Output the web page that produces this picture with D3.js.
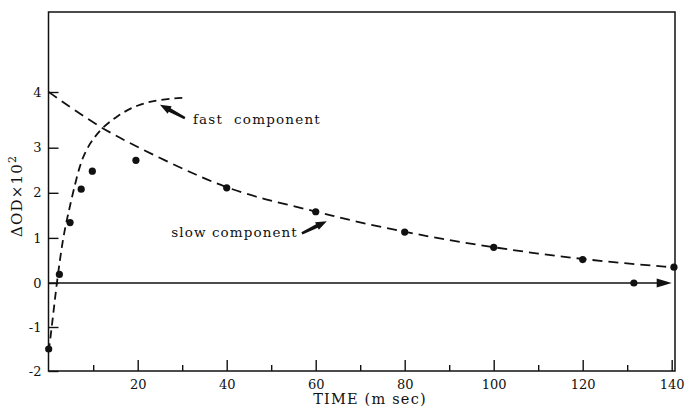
<!DOCTYPE html>
<html>
<head>
<meta charset="utf-8">
<script src="https://cdn.jsdelivr.net/npm/d3@7"></script>
<style>
  html, body { margin: 0; padding: 0; background: #fff; }
  svg { display: block; }
  text { font-family: "DejaVu Serif", "Liberation Serif", serif; fill: #111; }
</style>
</head>
<body>
<svg id="chart" width="686" height="408"></svg>
<script>
// ---- data ----
const pointT = [0, 2.4, 4.8, 7.3, 9.8, 19.6, 40, 60, 80, 100, 120, 131.5, 140.5];
const pointV = [-1.5, 0.19, 1.34, 2.08, 2.48, 2.72, 2.11, 1.58, 1.13, 0.79, 0.52, 0, 0.35];

const slowT = [0, 5.5, 11.9, 18.3, 25.8, 33.3, 40, 48.2, 60, 67.7, 80, 90, 100, 110, 120, 130, 140];
const slowV = [4.0, 3.69, 3.35, 3.08, 2.73, 2.39, 2.11, 1.86, 1.59, 1.39, 1.13, 0.95, 0.79, 0.65, 0.53, 0.43, 0.35];

const fastT = [0, 0.7, 1.8, 3.2, 4.3, 5.5, 7, 8.4, 10, 11.9, 15.3, 19.8, 25, 31];
const fastV = [-1.55, -1, 0, 1, 1.5, 2.02, 2.62, 2.95, 3.16, 3.35, 3.57, 3.77, 3.87, 3.9];

const xMajorTicks = [20, 40, 60, 80, 100, 120, 140];
const xMinorTicks = [10, 30, 50, 70, 90, 110, 130];
const yTicks = [-2, -1, 0, 1, 2, 3, 4];

// ---- layout ----
const svg = d3.select("#chart");
const frame = { left: 48.5, right: 675, top: 12, bottom: 371 };

const x = d3.scaleLinear().domain([0, 140]).range([48.7, 671.7]);
// the printed axis is slightly uneven between 3 and 4; follow the printed tick marks
const y = d3.scaleLinear().domain([-2, 0, 3, 4]).range([371, 283, 147.7, 92]);

// frame
svg.append("rect")
  .attr("x", frame.left).attr("y", frame.top)
  .attr("width", frame.right - frame.left).attr("height", frame.bottom - frame.top)
  .attr("fill", "none").attr("stroke", "#111").attr("stroke-width", 1.5);

// x axis: major ticks with labels, minor ticks without
const xMajor = svg.append("g")
  .attr("transform", `translate(0,${frame.bottom})`)
  .call(d3.axisBottom(x).tickValues(xMajorTicks).tickSize(-11).tickPadding(9).tickFormat(d3.format("d")));
const xMinor = svg.append("g")
  .attr("transform", `translate(0,${frame.bottom})`)
  .call(d3.axisBottom(x).tickValues(xMinorTicks).tickSize(-6).tickFormat(""));
[xMajor, xMinor].forEach(g => {
  g.select(".domain").remove();
  g.selectAll("line").attr("stroke", "#111").attr("stroke-width", 1.4);
});
xMajor.selectAll("text").attr("font-size", 13).attr("font-family", "DejaVu Serif").attr("fill", "#111");

// y axis
const yAx = svg.append("g")
  .attr("transform", `translate(${frame.left},0)`)
  .call(d3.axisLeft(y).tickValues(yTicks).tickSize(-10).tickPadding(7).tickFormat(d3.format("d")));
yAx.select(".domain").remove();
yAx.selectAll("line").attr("stroke", "#111").attr("stroke-width", 1.4);
yAx.selectAll("text").attr("font-size", 13).attr("font-family", "DejaVu Serif").attr("fill", "#111")
  .text(d => d < 0 ? "-" + Math.abs(d) : d);

// zero baseline with arrow
const arrowTip = x(140);
svg.append("line")
  .attr("x1", frame.left).attr("x2", arrowTip - 10)
  .attr("y1", y(0)).attr("y2", y(0))
  .attr("stroke", "#111").attr("stroke-width", 1.4);
svg.append("path")
  .attr("d", `M${arrowTip},${y(0)} L${arrowTip - 15},${y(0) - 4.5} L${arrowTip - 15},${y(0) + 4.5} Z`)
  .attr("fill", "#111");

// curves
const smoothLine = d3.line().x(d => x(d[0])).y(d => y(d[1])).curve(d3.curveBasis);
svg.append("path")
  .attr("d", smoothLine(slowT.map((t, i) => [t, slowV[i]])))
  .attr("fill", "none").attr("stroke", "#111").attr("stroke-width", 1.8)
  .attr("stroke-dasharray", "10,6");
svg.append("path")
  .attr("d", smoothLine(fastT.map((t, i) => [t, fastV[i]])))
  .attr("fill", "none").attr("stroke", "#111").attr("stroke-width", 1.8)
  .attr("stroke-dasharray", "8,5");

// data points
svg.append("g").selectAll("circle")
  .data(pointT.map((t, i) => [t, pointV[i]]))
  .join("circle")
  .attr("cx", d => x(d[0])).attr("cy", d => y(d[1])).attr("r", 3.6)
  .attr("fill", "#111");

// annotations
function thickArrow(t0, v0, t1, v1) {
  const x0 = x(t0), y0 = y(v0), x1 = x(t1), y1 = y(v1);
  const dx = x1 - x0, dy = y1 - y0, L = Math.hypot(dx, dy);
  const ux = dx / L, uy = dy / L, px = -uy, py = ux;
  const hb = 11, hw = 4.2, tw = 1.2;
  const bx = x1 - ux * hb, by = y1 - uy * hb;
  const pts = [
    [x0 + px * tw, y0 + py * tw],
    [bx + px * 2, by + py * 2],
    [bx + px * hw, by + py * hw],
    [x1, y1],
    [bx - px * hw, by - py * hw],
    [bx - px * 2, by - py * 2],
    [x0 - px * tw, y0 - py * tw]
  ];
  svg.append("path").attr("d", "M" + pts.map(p => p.join(",")).join("L") + "Z").attr("fill", "#111");
}
thickArrow(30.6, 3.53, 25.0, 3.77);
svg.append("text")
  .attr("x", x(32.4)).attr("y", y(3.42))
  .attr("font-size", 13.5).attr("letter-spacing", 1.2)
  .attr("xml:space", "preserve")
  .text("fast  component");

thickArrow(56.9, 1.10, 62.5, 1.37);
svg.append("text")
  .attr("x", x(56.0)).attr("y", y(1.02)).attr("text-anchor", "end")
  .attr("font-size", 13.5).attr("letter-spacing", 1.1)
  .text("slow component");

// axis titles
svg.append("text")
  .attr("x", 370).attr("y", 404).attr("text-anchor", "middle")
  .attr("font-size", 14.5).attr("letter-spacing", 1.2)
  .text("TIME (m sec)");

const yt = svg.append("text")
  .attr("transform", "translate(22,196) rotate(-90)")
  .attr("text-anchor", "middle")
  .attr("font-size", 15).attr("letter-spacing", 1.2);
yt.append("tspan").text("ΔOD×10");
yt.append("tspan").attr("dy", -6).attr("font-size", 11).text("2");
</script>
</body>
</html>
